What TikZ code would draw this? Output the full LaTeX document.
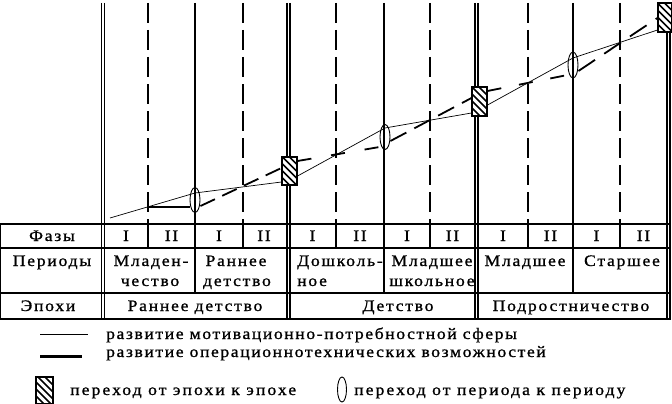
\documentclass[tikz,border=0pt]{standalone}
\usepackage{fontspec}
\setmainfont{Liberation Serif}
\newfontfamily\tblfont[FakeStretch=1.1,LetterSpace=11,FakeBold=1]{Liberation Serif}
\newfontfamily\lgdfont[FakeStretch=1.1,LetterSpace=10,FakeBold=1]{Liberation Serif}
\newfontfamily\lgdfontb[FakeStretch=1.1,LetterSpace=13,FakeBold=1]{Liberation Serif}
\usetikzlibrary{shapes.geometric}
\pgfdeclarelayer{bg}
\pgfsetlayers{bg,main}
\tikzset{
  vsolid/.style={line width=1.1pt},
  vdashed/.style={line width=1.6pt, dash pattern=on 20pt off 7pt},
  hline/.style={line width=1.2pt},
  motiv/.style={line width=0.7pt},
  oper/.style={line width=1.8pt},
  ovalmark/.style={draw, ellipse, line width=0.9pt, minimum width=10pt, minimum height=25pt, inner sep=0pt},
  hatchmark/.style={draw, line width=1.1pt, fill=white, minimum width=15pt, minimum height=28pt, inner sep=0pt,
    path picture={\foreach \k in {-5,...,5}{\draw[line width=1.5pt] ([xshift=\k*7pt]path picture bounding box.center) ++(-25pt,25pt) -- ++(50pt,-50pt);}}},
  cell/.style={font=\tblfont\fontsize{16}{19}\selectfont, inner sep=0pt, anchor=base},
  lgd/.style={font=\lgdfont\fontsize{16}{19}\selectfont, inner sep=0pt, anchor=base west},
  lgdb/.style={font=\lgdfontb\fontsize{16}{19}\selectfont, inner sep=0pt, anchor=base west},
}
\begin{document}
\begin{tikzpicture}[x=1pt,y=-1pt]
\useasboundingbox (0,0) rectangle (672,404);
% transition marks
\node[ovalmark] (o1) at (195,200) {};
\node[hatchmark] (r1) at (289.5,171) {};
\node[ovalmark] (o2) at (385,137) {};
\node[hatchmark, minimum height=29pt] (r2) at (479.5,101.5) {};
\node[ovalmark, minimum height=26pt] (o3) at (573,65) {};
\node[hatchmark, minimum width=14pt, minimum height=29pt] (r3) at (665,17.5) {};
\coordinate (m0) at (110,218);
\coordinate (k0) at (148,207);
\begin{pgfonlayer}{bg}
  \foreach \x in {101.5,104.5,287,290,475,478,667,670} \draw[vsolid] (\x,3) -- (\x,319);
  \foreach \x in {195,384,573} \draw[vsolid] (\x,3) -- (\x,293);
  \foreach \x in {148,243,336,430,528,620} {\draw[vdashed] (\x,3) -- (\x,224); \draw[vsolid] (\x,224) -- (\x,248);}
  \foreach \y in {224,248,293,319} \draw[hline] (0,\y) -- (671,\y);
  \draw[vsolid] (0.6,224) -- (0.6,319);
  % curves
  \draw[motiv] (m0) -- ([yshift=7pt]o1.center) -- ([yshift=-11pt]r1.west);
  \draw[oper] (k0) -- ([yshift=-7pt]o1.west);
  \draw[oper, dash pattern=on 16pt off 8pt] ([yshift=-6pt]o1.east) -- ([yshift=3pt]r1.west);
  \draw[motiv] ([yshift=-5pt]r1.east) -- ([yshift=9pt]o2.center) -- ([yshift=-11.5pt]r2.west);
  \draw[oper, dash pattern=on 14pt off 20pt] ([yshift=10pt]r1.east) -- ([yshift=-10pt]o2.west);
  \draw[oper, dash pattern=on 18pt off 9pt] ([yshift=-4pt]o2.east) -- ([yshift=3.5pt]r2.west);
  \draw[motiv] ([yshift=-3.5pt]r2.east) -- ([yshift=7pt]o3.center) -- ([yshift=-12.5pt]r3.west);
  \draw[oper, dash pattern=on 14pt off 18pt] ([yshift=10.5pt]r2.east) -- ([yshift=-10pt]o3.west);
  \draw[oper, dash pattern=on 20pt off 11pt] ([yshift=-6pt]o3.east) -- ([yshift=-0.5pt]r3.west);
\end{pgfonlayer}
% table: row labels
\node[cell] (hf) at (52,241) {Фазы};
\node[cell] (hp) at (52,266) {Периоды};
\node[cell] (he) at (48,311) {Эпохи};
% phases
\node[cell] (f1) at (126,241) {I};
\node[cell] (f2) at (171.5,241) {II};
\node[cell] (f3) at (219,241) {I};
\node[cell] (f4) at (264,241) {II};
\node[cell] (f5) at (312.5,241) {I};
\node[cell] (f6) at (360,241) {II};
\node[cell] (f7) at (407,241) {I};
\node[cell] (f8) at (452.5,241) {II};
\node[cell] (f9) at (503,241) {I};
\node[cell] (f10) at (550.5,241) {II};
\node[cell] (f11) at (596.5,241) {I};
\node[cell] (f12) at (643.5,241) {II};
% periods
\node[cell] (p1a) at (151,266) {Младен-};
\node[cell] (p1b) at (150,286) {чество};
\node[cell] (p2a) at (236,266) {Раннее};
\node[cell] (p2b) at (237,286) {детство};
\node[cell, anchor=base west] (p3a) at (297,266) {Дошколь-};
\node[cell, anchor=base west] (p3b) at (297,286) {ное};
\node[cell] (p4a) at (432,266) {Младшее};
\node[cell] (p4b) at (432,286) {школьное};
\node[cell] (p5) at (525,266) {Младшее};
\node[cell] (p6) at (622,266) {Старшее};
% epochs
\node[cell] (e1) at (195,311) {Раннее детство};
\node[cell] (e2) at (398,311) {Детство};
\node[cell] (e3) at (571,311) {Подростничество};
% legend
\coordinate (la) at (40,334); \coordinate (lb) at (88,334);
\draw[line width=0.9pt] (la) -- (lb);
\coordinate (lc) at (40,356.5); \coordinate (ld) at (82,356.5);
\draw[line width=2.4pt] (lc) -- (ld);
\node[hatchmark, minimum width=17pt, minimum height=27pt] (lh) at (44.5,390.5) {};
\node[ovalmark, minimum width=9pt] (lo) at (342,389.5) {};
\node[lgd] (t1) at (106,339) {развитие мотивационно-потребностной сферы};
\node[lgd] (t2) at (106,357) {развитие операционнотехнических возможностей};
\node[lgdb] (t3) at (70,395) {переход от эпохи к эпохе};
\node[lgdb] (t4) at (354,395) {переход от периода к периоду};
\end{tikzpicture}
\end{document}
